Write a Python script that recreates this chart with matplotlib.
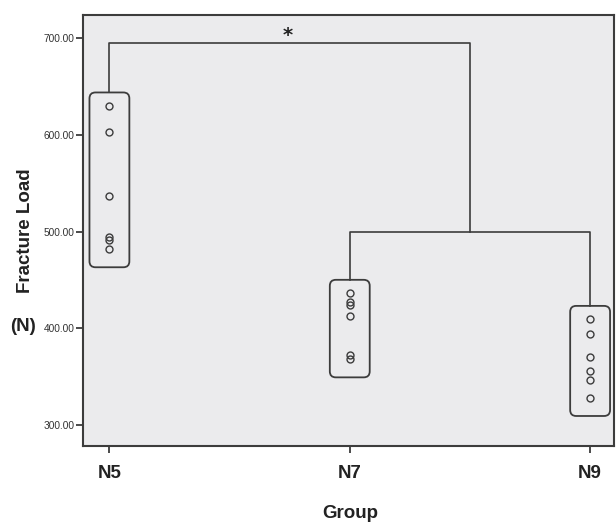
import matplotlib
matplotlib.use("Agg")
import matplotlib.pyplot as plt
from matplotlib.patches import FancyBboxPatch

# datos
groups = ["N5", "N7", "N9"]
n5_load = [630, 603, 537, 494, 491, 482]
n7_load = [436, 427, 424, 413, 372, 368]
n9_load = [409, 394, 370, 356, 346, 328]
y_ticks = [300, 400, 500, 600, 700]

# brackets de significancia
top_bracket_y = 695
low_bracket_y = 500
split_x = 1.5

ink = "#3c3c3c"
label_font = ["Liberation Sans", "DejaVu Sans"]
fig = plt.figure(figsize=(6.16, 5.24), dpi=100)
ax = fig.add_axes([0.1347, 0.149, 0.8623, 0.822])
ax.set_facecolor("#ebebed")
ax.set_xlim(-0.11, 2.10)
ax.set_ylim(278, 724)

data = [n5_load, n7_load, n9_load]
fig.canvas.draw()
# relación de escala para que las esquinas redondeadas salgan circulares
(x0, y0), (x1, y1) = ax.transData.transform([(0, 300), (1, 400)])
aspect = (100 / (y1 - y0)) / (1 / (x1 - x0))

box_tops = []
for i, vals in enumerate(data):
    ax.plot([i] * len(vals), vals, "o", mfc="none", mec=ink, ms=5, mew=1.0, zorder=3)
    lo, hi = min(vals) - 19, max(vals) + 14
    box_tops.append(hi)
    ax.add_patch(FancyBboxPatch((i - 0.083, lo), 0.166, hi - lo,
                                boxstyle="round,pad=0,rounding_size=0.025",
                                mutation_aspect=aspect, fc="none", ec=ink, lw=1.3, zorder=2))

# bracket inferior N7 - N9
ax.plot([1, 1, 2, 2], [box_tops[1], low_bracket_y, low_bracket_y, box_tops[2]], color=ink, lw=1.2)
# bracket superior N5 - (N7, N9)
ax.plot([0, 0, split_x, split_x], [box_tops[0], top_bracket_y, top_bracket_y, low_bracket_y],
        color=ink, lw=1.2)
ax.text(0.74, top_bracket_y - 2, "*", ha="center", va="bottom", fontsize=14, fontweight="bold", color="#222")

ax.set_xticks(range(len(groups)))
ax.set_xticklabels(groups, fontsize=13.5, fontweight="bold", family=label_font, color="#222")
ax.set_yticks(y_ticks)
ax.set_yticklabels([f"{v:.2f}" for v in y_ticks], fontsize=7.3, family=["Liberation Sans Narrow", "Liberation Sans"],
                   color="#333")
ax.tick_params(axis="y", length=5, width=1.3, color=ink, pad=1)
ax.tick_params(axis="x", length=5, width=1.3, color=ink, pad=9)
for s in ax.spines.values():
    s.set_color(ink)
    s.set_linewidth(1.5)

fig.text(0.042, 0.56, "Fracture Load", rotation=90, ha="center", va="center",
         fontsize=13.5, fontweight="bold", family=label_font, color="#222")
fig.text(0.037, 0.377, "(N)", ha="center", va="center",
         fontsize=13.5, fontweight="bold", family=label_font, color="#222")
fig.text(0.568, 0.02, "Group", ha="center", va="center",
         fontsize=13.5, fontweight="bold", family=label_font, color="#222")

fig.savefig("out.png", dpi=100)
